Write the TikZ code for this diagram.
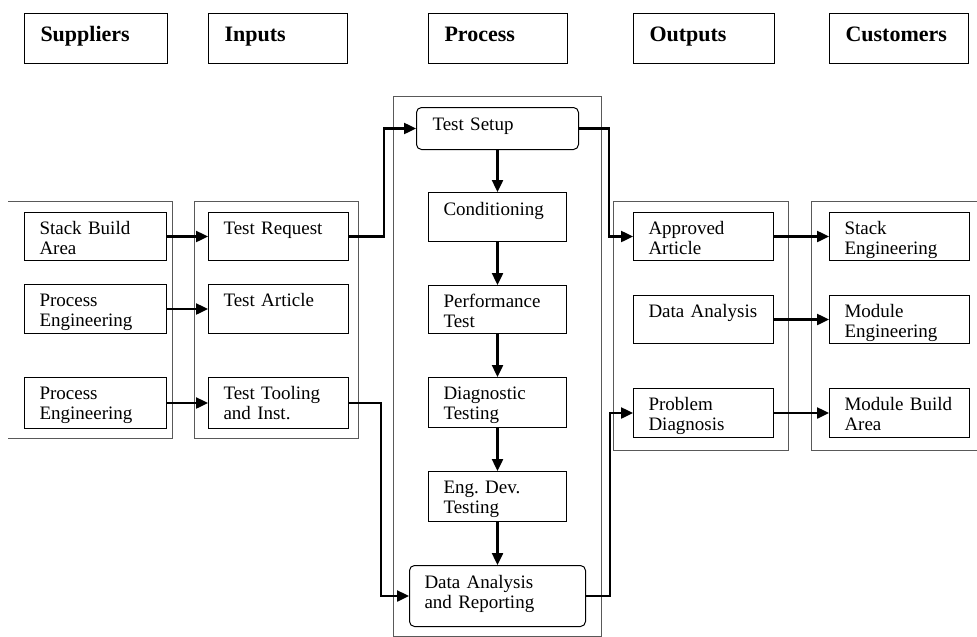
\documentclass[tikz,border=0pt]{standalone}
\usepackage{fontspec}
\setmainfont{Liberation Serif}
\usetikzlibrary{arrows.meta}

\begin{document}
\begin{tikzpicture}[x=1pt, y=1pt,
    headbox/.style={draw, line width=1pt, anchor=north west, align=left,
      text width=107pt, inner xsep=16pt, inner ysep=0pt,
      text height=28pt, text depth=22pt,
      font=\fontsize{22}{24}\selectfont\bfseries},
    itembox/.style={draw, line width=1pt, anchor=north west, align=left,
      text width=110pt, inner xsep=15pt, inner ysep=0pt,
      text height=22pt, text depth=26pt,
      font=\fontsize{19}{20}\selectfont},
    procbox/.style={itembox, text width=108pt},
    roundbox/.style={itembox, rounded corners=5pt},
    group/.style={draw=black!65, line width=0.8pt},
    flow/.style={line width=2.4pt, -{Triangle[length=12pt, width=11pt]}}]
  \useasboundingbox (0, 0) rectangle (977, -637);

  \draw[group] (8, -201) -- (172, -201) -- (172, -438) -- (8, -438);
  \draw[group] (194, -201) rectangle (358, -438);
  \draw[group] (393, -96) rectangle (601, -636);
  \draw[group] (613, -201) rectangle (788, -450);
  \draw[group] (977, -201) -- (811, -201) -- (811, -450) -- (977, -450);

  \node[headbox, text width=111pt] (suppliers) at (24, -13) {Suppliers};
  \node[headbox] (inputs) at (208, -13) {Inputs};
  \node[headbox] (process) at (428, -13) {Process};
  \node[headbox, text width=109pt] (outputs) at (633, -13) {Outputs};
  \node[headbox] (customers) at (829, -13) {Customers};

  \node[itembox, text width=112pt] (sba) at (24, -212) {Stack Build\\Area};
  \node[itembox, text width=112pt, text depth=27pt] (pe1) at (24, -284) {Process\\Engineering};
  \node[itembox, text width=112pt, text depth=29pt] (pe2) at (24, -377) {Process\\Engineering};

  \node[itembox] (tr) at (208, -212) {Test Request};
  \node[itembox, text depth=27pt] (ta) at (208, -284) {Test Article};
  \node[itembox, text depth=29pt] (tt) at (208, -377) {Test Tooling\\and Inst.};

  \node[roundbox, text width=130pt, inner xsep=16pt, text height=23pt, text depth=19pt] (ts) at (416, -107) {Test Setup};
  \node[procbox, text height=23pt] (cond) at (428, -192) {Conditioning};
  \node[procbox] (perf) at (428, -285) {Performance\\Test};
  \node[procbox, text depth=28pt] (diag) at (428, -377) {Diagnostic\\Testing};
  \node[procbox, text depth=28pt] (eng) at (428, -471) {Eng.\ Dev.\\Testing};
  \node[roundbox, text width=146pt, text height=23pt, text depth=38pt] (dar) at (409, -565) {Data Analysis\\and Reporting};

  \node[itembox] (aa) at (633, -212) {Approved\\Article};
  \node[itembox] (da) at (633, -295) {Data~Analysis};
  \node[itembox, text depth=27pt] (pd) at (633, -388) {Problem\\Diagnosis};

  \node[itembox] (se) at (829, -212) {Stack\\Engineering};
  \node[itembox] (me) at (829, -295) {Module\\Engineering};
  \node[itembox, text depth=27pt] (mba) at (829, -388) {Module Build\\Area};

  \draw[flow] (sba) -- (tr);
  \draw[flow] (pe1) -- (ta);
  \draw[flow] (pe2) -- (tt);
  \draw[flow] (tr.east) -- ++(35, 0) |- (ts.west);
  \draw[flow] (tt.east) -- ++(32, 0) |- (dar.west);
  \draw[flow] (ts) -- (cond);
  \draw[flow] (cond) -- (perf);
  \draw[flow] (perf) -- (diag);
  \draw[flow] (diag) -- (eng);
  \draw[flow] (eng) -- (dar);
  \draw[flow] (ts.east) -- ++(30, 0) |- (aa.west);
  \draw[flow] (dar.east) -- ++(24, 0) |- (pd.west);
  \draw[flow] (aa) -- (se);
  \draw[flow] (da) -- (me);
  \draw[flow] (pd) -- (mba);
\end{tikzpicture}
\end{document}
